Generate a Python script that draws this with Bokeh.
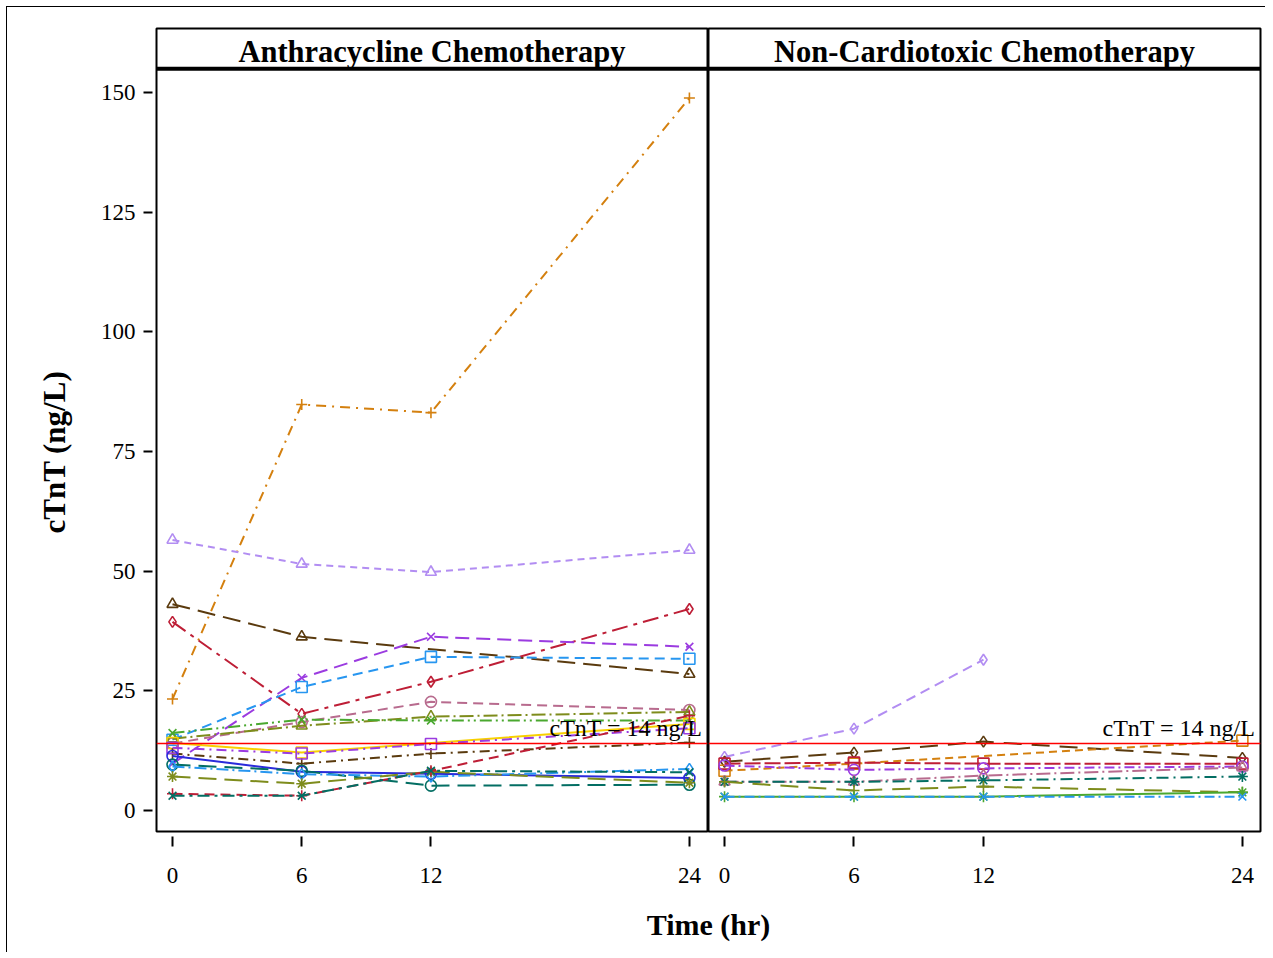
from bokeh.plotting import figure
from bokeh.models import Range1d, FixedTicker, Span, Label, Title, ColumnDataSource
from bokeh.layouts import row, column
from bokeh.embed import file_html
from bokeh.resources import INLINE

# ---------------- data ----------------
hours = [0, 6, 12, 24]
x_ticks = [0, 6, 12, 24]
y_ticks = [0, 25, 50, 75, 100, 125, 150]
threshold = 14
threshold_text = "cTnT = 14 ng/L"
panel_titles = ["Anthracycline Chemotherapy", "Non-Cardiotoxic Chemotherapy"]
x_title = "Time (hr)"
y_title = "cTnT (ng/L)"

# Anthracycline chemotherapy patients (None = not measured)
a01 = [23.3, 84.8, 83.1, 148.8]
a02 = [56.5, 51.5, 49.8, 54.4]
a03 = [43.1, 36.3, None, 28.5]
a04 = [39.4, 20.2, 26.9, 42.1]
a05 = [9.8, 27.7, 36.3, 34.2]
a06 = [14.8, 25.8, 32.1, 31.7]
a07 = [14.0, 18.5, 22.7, 21.0]
a08 = [15.0, 17.7, 19.6, 20.6]
a09 = [16.2, 19.0, 18.8, 18.8]
a10 = [14.1, 12.1, None, 18.1]
a11 = [11.9, 9.8, 11.9, 14.2]
a12 = [13.1, 11.9, 13.9, 17.2]
a13 = [11.4, 8.1, 7.7, 6.8]
a14 = [9.6, 8.3, 5.2, 5.4]
a15 = [9.2, 7.6, 7.1, 8.7]
a16 = [7.1, 5.6, 8.1, 5.8]
a17 = [3.5, 3.1, 8.3, 19.8]
a18 = [3.1, 3.1, 8.3, 8.0]

# Non-cardiotoxic chemotherapy patients
n01 = [11.2, 17.1, 31.5, None]
n02 = [10.2, 12.1, 14.4, 11.0]
n03 = [8.3, 9.8, None, 14.6]
n04 = [9.8, 10.0, 9.8, 9.8]
n05 = [9.4, 8.5, 8.8, 9.2]
n06 = [6.0, 6.0, 7.3, 9.0]
n07 = [6.0, 6.0, 6.3, 7.1]
n08 = [6.0, 4.2, 5.0, 3.8]
n09 = [2.9, 2.9, 2.9, 3.8]
n10 = [2.9, 2.9, 2.9, 2.9]

# ---------------- styles ----------------
ORANGE = "#D4800F"
LAVENDER = "#B28DF2"
BROWN = "#5A3A0E"
CRIMSON = "#BE1E36"
PURPLE = "#9B3BE0"
DODGER = "#2796F0"
MAUVE = "#B86B8E"
OLIVE = "#7E8C1C"
GREEN = "#4AA82F"
GOLD = "#F8D000"
BLUE = "#2A2ADB"
TEAL = "#036E63"

anthra_series = [
    (a01, ORANGE, "cross", "10 6 2 6"),
    (a02, LAVENDER, "triangle", "7 5"),
    (a03, BROWN, "triangle", "18 8"),
    (a04, CRIMSON, "diamond", "16 6 4 6"),
    (a05, PURPLE, "x", "14 7"),
    (a06, DODGER, "square", "10 6"),
    (a07, MAUVE, "circle", "10 6"),
    (a08, OLIVE, "triangle", "14 4 2 4"),
    (a09, GREEN, "x", "12 4 2 4 2 4"),
    (a10, GOLD, "square", "solid"),
    (a11, BROWN, "cross", "10 5 2 5"),
    (a12, PURPLE, "square", "10 5 2 5"),
    (a13, BLUE, "circle", "solid"),
    (a14, TEAL, "circle", "18 8"),
    (a15, DODGER, "diamond", "12 4 2 4"),
    (a16, OLIVE, "asterisk", "18 8"),
    (a17, CRIMSON, "cross", "10 6"),
    (a18, TEAL, "x", "12 5 3 5"),
]

noncardio_series = [
    (n01, LAVENDER, "diamond", "10 6"),
    (n02, BROWN, "diamond", "18 10"),
    (n03, ORANGE, "square", "8 5"),
    (n04, CRIMSON, "square", "16 4"),
    (n05, PURPLE, "circle", "10 4 2 4"),
    (n06, MAUVE, "triangle", "14 4 2 4"),
    (n07, TEAL, "asterisk", "12 5 2 5"),
    (n08, OLIVE, "cross", "18 10"),
    (n09, GREEN, "asterisk", "solid"),
    (n10, DODGER, "x", "10 4 2 4"),
]

SERIF = "Liberation Serif"
X_START, X_END = -0.743, 24.84
Y_START, Y_END = -4.375, 163.33
HEADER_LINE = 154.9
HEADER_TEXT_Y = 158.45
THRESH_TEXT_Y = 17.26


def make_panel(title, series, width, mbl, mbr, show_y):
    p = figure(
        width=width, height=879,
        x_range=Range1d(X_START, X_END), y_range=Range1d(Y_START, Y_END),
        toolbar_location=None, output_backend="svg",
        min_border_left=mbl, min_border_right=mbr,
        min_border_top=21, min_border_bottom=55,
        y_axis_location="left" if show_y else None,
    )
    p.background_fill_color = "white"
    p.border_fill_color = "white"
    p.outline_line_color = "black"
    p.outline_line_width = 2
    p.xgrid.visible = False
    p.ygrid.visible = False

    p.xaxis.ticker = FixedTicker(ticks=x_ticks)
    p.xaxis.axis_line_color = None
    p.xaxis.major_tick_in = -5
    p.xaxis.major_tick_out = 15
    p.xaxis.major_tick_line_width = 2
    p.xaxis.minor_tick_line_color = None
    p.xaxis.major_label_text_font = SERIF
    p.xaxis.major_label_text_font_size = "23px"
    p.xaxis.major_label_text_color = "black"
    p.xaxis.major_label_standoff = 21

    if show_y:
        p.yaxis.ticker = FixedTicker(ticks=y_ticks)
        p.yaxis.axis_line_color = None
        p.yaxis.major_tick_in = -4
        p.yaxis.major_tick_out = 13
        p.yaxis.major_tick_line_width = 2
        p.yaxis.minor_tick_line_color = None
        p.yaxis.major_label_text_font = SERIF
        p.yaxis.major_label_text_font_size = "23px"
        p.yaxis.major_label_text_color = "black"
        p.yaxis.major_label_standoff = 8
        # axis title, placed along the data area (below the header strip)
        p.add_layout(Title(text=y_title, align="left", offset=298, standoff=52,
                           text_font=SERIF, text_font_style="bold",
                           text_font_size="31px", text_color="black"), "left")

    # header strip separator and title
    p.add_layout(Span(location=HEADER_LINE, dimension="width",
                      line_color="black", line_width=4))
    p.add_layout(Label(x=(X_START + X_END) / 2, y=HEADER_TEXT_Y,
                       text=title, text_align="center", text_baseline="alphabetic",
                       text_font=SERIF, text_font_style="bold",
                       text_font_size="30.5px", text_color="black"))

    # reference line
    p.add_layout(Span(location=threshold, dimension="width",
                      line_color="#FF0000", line_width=1.5))

    for vals, color, marker, dash in series:
        xs = [h for h, v in zip(hours, vals) if v is not None]
        ys = [v for v in vals if v is not None]
        src = ColumnDataSource(dict(x=xs, y=ys))
        p.line("x", "y", source=src, line_color=color, line_dash=dash, line_width=2)
        p.scatter("x", "y", source=src, marker=marker, size=11,
                  line_color=color, fill_color=None, line_width=1.6)

    p.add_layout(Label(x=24.6, y=THRESH_TEXT_Y, text=threshold_text,
                       text_align="right", text_baseline="alphabetic",
                       text_font=SERIF, text_font_size="24px", text_color="black"))
    return p


left = make_panel(panel_titles[0], anthra_series, 701, 149, 1, True)
right = make_panel(panel_titles[1], noncardio_series, 557, 0, 5, False)

bottom = figure(width=1258, height=66, x_range=Range1d(0, 1258), y_range=Range1d(0, 66),
                toolbar_location=None, output_backend="svg", min_border=0,
                x_axis_location=None, y_axis_location=None)
bottom.outline_line_color = None
bottom.xgrid.visible = False
bottom.ygrid.visible = False
bottom.add_layout(Label(x=701, y=28, text=x_title, text_align="center",
                        text_baseline="alphabetic", text_font=SERIF,
                        text_font_style="bold", text_font_size="30px", text_color="black"))

layout = column(row(left, right), bottom,
                styles={"margin-left": "6px", "margin-top": "6px",
                        "border-left": "1px solid black", "border-top": "1px solid black"})

open("out.html", "w").write(file_html(layout, INLINE))
